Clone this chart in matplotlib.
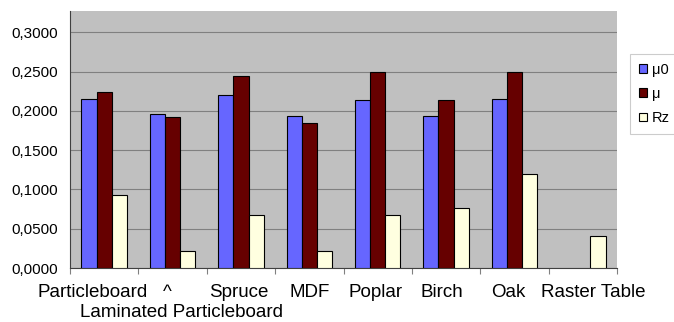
import matplotlib.pyplot as plt
import numpy as np

plt.rcParams['font.family'] = ['Liberation Sans', 'DejaVu Sans']

categories = ["Particleboard", "^", "Spruce", "MDF", "Poplar", "Birch", "Oak", "Raster Table"]
second_row = ["", "Laminated Particleboard", "", "", "", "", "", ""]
mu0 = [0.2148, 0.1958, 0.2195, 0.1932, 0.2135, 0.1932, 0.2152, 0.0]
mu = [0.2237, 0.1915, 0.2440, 0.1850, 0.2490, 0.2135, 0.2490, 0.0]
rz = [0.0932, 0.0216, 0.0669, 0.0216, 0.0669, 0.0758, 0.1199, 0.0402]
series_names = ["\u03bc0", "\u03bc", "Rz"]
colors = ["#6666FF", "#660000", "#FFFFE0"]
yticks = [0.0, 0.05, 0.10, 0.15, 0.20, 0.25, 0.30]

W, H = 674, 322
fig = plt.figure(figsize=(W / 100, H / 100), dpi=100)
ax = fig.add_axes([70 / W, 1 - 268 / H, (617 - 70) / W, (268 - 11) / H])
ax.set_facecolor("#C0C0C0")

x = np.arange(len(categories))
w = 0.222
for i, (vals, name, c) in enumerate(zip([mu0, mu, rz], series_names, colors)):
    heights = np.array(vals)
    mask = heights > 0
    ax.bar(x[mask] + (i - 1) * w, heights[mask], width=w, color=c,
           edgecolor="black", linewidth=0.8, label=name, zorder=3)

ax.set_xlim(-0.5, len(categories) - 0.5)
ax.set_ylim(0, 0.327)
ax.set_yticks(yticks)
ax.set_yticklabels([f"{v:.4f}".replace(".", ",") for v in yticks], fontsize=11)
ax.yaxis.grid(True, color="#808080", linewidth=0.8, zorder=0)
ax.tick_params(axis="y", length=0, pad=9)

ax.set_xticks(np.arange(len(categories) + 1) - 0.5)
ax.set_xticklabels([])
ax.tick_params(axis="x", direction="out", length=4, color="#808080")

# category labels, nudged horizontally (in pixels) the way the spreadsheet laid them out
nudge_px = [-12, -5, -2, 0, -2, -4, -6, 10]
cat_w_px = (617 - 70) / len(categories)
for i, (a, b) in enumerate(zip(categories, second_row)):
    ax.text(i + nudge_px[i] / cat_w_px, -0.0318, a, ha="center", va="center", fontsize=13.5)
    if b:
        ax.text(i + 8.5 / cat_w_px, -0.0572, b, ha="center", va="center", fontsize=13.5)

for s in ["top", "right"]:
    ax.spines[s].set_visible(False)
ax.spines["left"].set_color("#404040")
ax.spines["bottom"].set_color("#404040")

leg = fig.legend(loc="upper left", bbox_to_anchor=(630 / W, 1 - 54 / H),
                 fontsize=10.5, frameon=True, fancybox=False, edgecolor="#C0C0C0",
                 handlelength=0.55, handleheight=0.55, handletextpad=0.35,
                 borderpad=0.6, labelspacing=0.7, borderaxespad=0)
leg.get_frame().set_linewidth(0.8)
for h in leg.legend_handles:
    h.set_linewidth(0.8)

fig.savefig("out.png", dpi=100)
